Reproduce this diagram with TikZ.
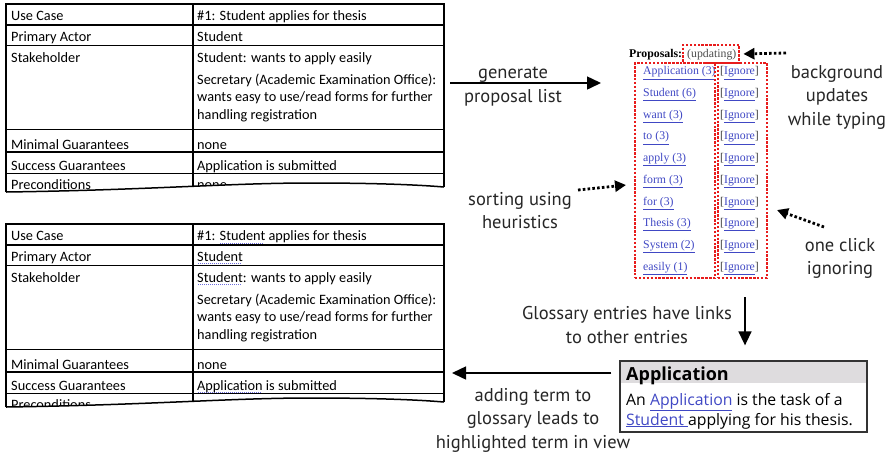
\documentclass[tikz,border=0pt]{standalone}
\usepackage{fontspec}
\usetikzlibrary{arrows.meta, positioning}
\setmainfont{Carlito}
\newfontfamily\notefont{PT Sans}
\newfontfamily\webfont{Liberation Serif}
\newfontfamily\glossfont{Open Sans}
\definecolor{linkblue}{RGB}{64,72,196}
\definecolor{markred}{RGB}{232,28,28}
\definecolor{spellblue}{RGB}{110,110,220}
\definecolor{headgray}{RGB}{222,220,222}
\newsavebox\markbox
\newcommand{\plainword}[1]{#1}
\newcommand{\spellmark}[1]{\sbox\markbox{#1}\rlap{\raisebox{-3pt}{\color{spellblue}\leaders\hbox to 2pt{\hss\rule{1pt}{1pt}\hss}\hskip\wd\markbox}}\usebox\markbox}
\newcommand{\weblink}[1]{\textcolor{linkblue}{\underline{#1}}}

\begin{document}
\begin{tikzpicture}[x=1pt, y=-1pt,
    cell/.style={anchor=base west, inner sep=0pt, font=\fontsize{14.3}{17}\selectfont},
    rowline/.style={line width=1.3pt},
    frame/.style={line width=2.5pt},
    note/.style={font=\notefont\fontsize{18.5}{23.5}\selectfont, align=center, text=black!85},
    weblabel/.style={anchor=west, inner sep=0pt, font=\webfont\fontsize{11.8}{13}\selectfont},
    glosstext/.style={anchor=base west, inner sep=0pt, font=\glossfont\fontsize{15.8}{18}\selectfont},
    redbox/.style={draw=markred, line width=2.8pt, dash pattern=on 2.4pt off 1.5pt, inner sep=0pt},
    hint/.style={line width=2.8pt, dash pattern=on 2.6pt off 2.2pt, -{Triangle[length=11pt,width=11pt]}},
    flow/.style={line width=1.5pt, -{Triangle[length=14pt,width=13pt]}}]
    \useasboundingbox (0,0) rectangle (888,459);

    % Use case tables: plain one on top, one with glossary marks below
    \foreach \ty/\bs/\mk/\nm in {4/4/\plainword/one, 224/-1/\spellmark/two} {
        \begin{scope}[shift={(0,\ty)}]
            \foreach \ry in {21,41.5,125.5,148,169.5}
                \draw[rowline] (6,\ry) -- (444,\ry);
            \draw[rowline] (193,0) -- (193,{178+\bs});
            \draw[frame] (6,{184+\bs}) -- (6,0) -- (444,0) -- (444,{179+\bs});
            % torn lower edge
            \draw[line width=1.5pt] (6,{184+\bs}) .. controls (150,{182+\bs}) and (230,{175+\bs}) .. (310,{175+\bs}) .. controls (380,{175+\bs}) and (420,{177+\bs}) .. (444,{179+\bs});

            \node[cell] (\nm-uc) at (11,16.5) {Use Case};
            \node[cell] (\nm-ucv) at (197,16.5) {\#1: \mk{Student} applies for thesis};
            \node[cell] (\nm-pa) at (11,37) {Primary Actor};
            \node[cell] (\nm-pav) at (197,37) {\mk{Student}};
            \node[cell] (\nm-sh) at (11,58) {Stakeholder};
            \node[cell] (\nm-shv) at (197,58) {\mk{Student}: wants to apply easily};
            \node[cell] (\nm-sec) at (197,80) {Secretary (Academic Examination Office):};
            \node[cell] (\nm-wants) at (197,97.5) {wants easy to use/read forms for further};
            \node[cell] (\nm-hand) at (197,115) {handling registration};
            \node[cell] (\nm-mg) at (11,145) {Minimal Guarantees};
            \node[cell] (\nm-mgv) at (197,145) {none};
            \node[cell] (\nm-sg) at (11,166) {Success Guarantees};
            \node[cell] (\nm-sgv) at (197,166) {\mk{Application} is submitted};

            % last row is cut off by the torn edge
            \begin{scope}
                \clip (6,150) -- (444,150) -- (444,{179+\bs}) .. controls (420,{177+\bs}) and (380,{175+\bs}) .. (310,{175+\bs}) .. controls (230,{175+\bs}) and (150,{182+\bs}) .. (6,{184+\bs}) -- cycle;
                \node[cell] (\nm-pre) at (11,185) {Preconditions};
                \node[cell] (\nm-prev) at (197,185) {none};
            \end{scope}
        \end{scope}
    }

    % Proposal list
    \node[anchor=base west, inner sep=0pt, font=\webfont\bfseries\fontsize{11.8}{13}\selectfont] (propttl) at (629,57) {Proposals:};
    \node[anchor=base west, inner sep=0pt, font=\webfont\fontsize{11.8}{13}\selectfont, text=black!70] (upd) at (687,57) {(updating)};
    \foreach \w [count=\i from 0] in {Application (3), Student (6), want (3), to (3), apply (3), form (3), for (3), Thesis (3), System (2), easily (1)} {
        \node[weblabel] (word\i) at (643,{73+21.7*\i}) {\weblink{\w}};
        \node[weblabel, text=black!75] (ign\i) at (720,{73+21.7*\i}) {[\weblink{Ignore}]};
    }
    \node[redbox, minimum width=56, minimum height=18] (updbox) at (711,54) {};
    \node[redbox, minimum width=80, minimum height=215] (wordbox) at (675,170.5) {};
    \node[redbox, minimum width=49, minimum height=215] (ignbox) at (742.5,170.5) {};

    % Glossary entry
    \fill[headgray] (621,362) rectangle (866,383);
    \node[draw=black!80, line width=1.3pt, minimum width=247, minimum height=71, inner sep=0pt] (glossbox) at (743.5,396.5) {};
    \node[glosstext, font=\glossfont\bfseries\fontsize{18}{20}\selectfont] (glosshead) at (626,380) {Application};
    \node[glosstext] (glossl1) at (626,405) {An \weblink{Application} is the task of a};
    \node[glosstext] (glossl2) at (626,425) {\weblink{Student\ }applying for his thesis.};

    % Notes
    \node[note] (gennote) at (513,86.5) {generate\\proposal list};
    \node[note] (bgnote) at (837,97) {background\\updates\\while typing};
    \node[note] (clicknote) at (840,258.5) {one click\\ignoring};
    \node[note] (sortnote) at (520,210.5) {sorting using\\heuristics};
    \node[note] (linknote) at (627,325) {Glossary entries have links\\to other entries};
    \node[note] (addnote) at (533,420) {adding term to\\glossary leads to\\highlighted term in view};

    % Arrows
    \coordinate (genstart) at (450,83);
    \coordinate (genend) at (601,83);
    \coordinate (bgstart) at (786,53);
    \coordinate (clickstart) at (824,227);
    \coordinate (clickend) at (777,210);
    \coordinate (sortstart) at (578,190);
    \coordinate (sortend) at (626,185);
    \coordinate (linkstart) at (745,297);
    \coordinate (addend) at (452,373);
    \draw[flow] (genstart) -- (genend);
    \draw[hint, shorten >=3pt] (bgstart) -- (updbox.east);
    \draw[hint] (clickstart) -- (clickend);
    \draw[hint] (sortstart) -- (sortend);
    \draw[flow, shorten >=15pt] (linkstart) -- (glossbox.north -| linkstart);
    \draw[flow] ([xshift=-8pt]glossbox.west |- addend) -- (addend);
\end{tikzpicture}
\end{document}
